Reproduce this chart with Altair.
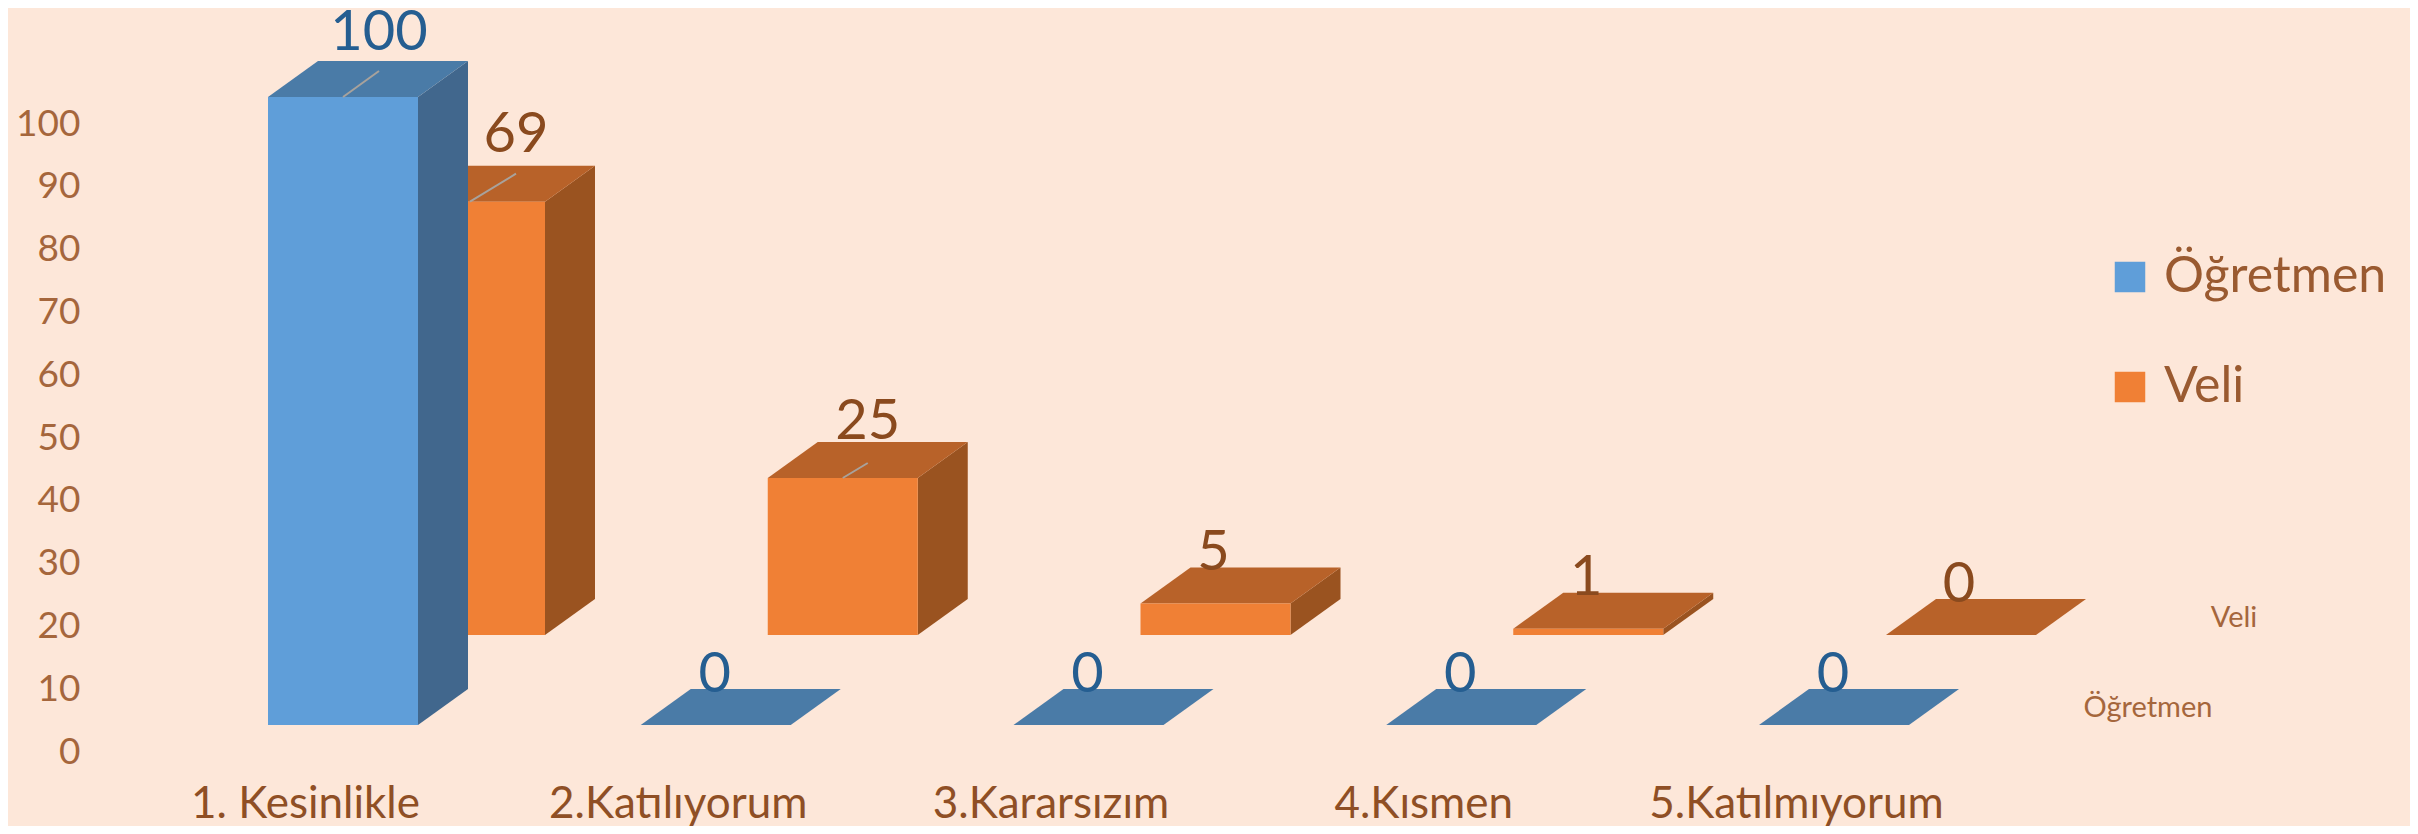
import json
import altair as alt
import pandas as pd

# ---- values ----
categories = ["1. Kesinlikle", "2.Katılıyorum", "3.Kararsızım", "4.Kısmen", "5.Katılmıyorum"]
ogretmen = [100, 0, 0, 0, 0]
veli = [69, 25, 5, 1, 0]
series_names = ["Öğretmen", "Veli"]
y_ticks = [0, 10, 20, 30, 40, 50, 60, 70, 80, 90, 100]

# ---- layout (pixels on the page -> data units) ----
PX_X = 372.75          # pixels per category
PX_Y = 6.28            # pixels per value unit
X0_PAGE, Y0_PAGE = 305, 752
px = lambda p: p / PX_X
py = lambda p: p / PX_Y

BAR_W = px(150)
DEPTH_X = px(50)
DEPTH_Y = py(36)
ROW = {"Öğretmen": dict(xo=px(-37), base=py(27), front="#5F9ED9", side="#41678D", top="#4A7BA7", text="#255E91"),
       "Veli": dict(xo=px(90), base=py(117), front="#F08035", side="#9A5320", top="#B86229", text="#8A4A1E")}
# label shift from the front-face centre / above the back edge of the top, in pixels
LABEL_DX = {"Öğretmen": [36, -1, -1, -1, -1], "Veli": [46, 25, -2, -2, -2]}
LABEL_DY = {"Öğretmen": [10.7, -2.7, -2.7, -2.7, -2.7], "Veli": [14, 3, -2.7, -2.7, -2.7]}
LEADER_DY = {"Öğretmen": [26, 0, 0, 0, 0], "Veli": [28, 15, 0, 0, 0]}
LABEL_SIZE = {"Öğretmen": [56, 56, 56, 56, 56], "Veli": [56, 56, 56, 56, 56]}

front, side, top, labels, leaders = [], [], [], [], []
for name, vals in (("Öğretmen", ogretmen), ("Veli", veli)):
    r = ROW[name]
    for i, v in enumerate(vals):
        fl = i + r["xo"]
        fr = fl + BAR_W
        b, t = r["base"], r["base"] + v
        key = f"{name}{i}"
        front.append(dict(s=name, x=fl, x2=fr, y=b, y2=t))
        side.append(dict(s=name, k=key, x=fr, y=b, y2=t))
        side.append(dict(s=name, k=key, x=fr + DEPTH_X, y=b + DEPTH_Y, y2=t + DEPTH_Y))
        top.append(dict(s=name, k=key, y=t, x=fl, x2=fr))
        top.append(dict(s=name, k=key, y=t + DEPTH_Y, x=fl + DEPTH_X, x2=fr + DEPTH_X))
        cx = (fl + fr) / 2
        lx = cx + px(LABEL_DX[name][i])
        labels.append(dict(s=name, x=lx, y=t + DEPTH_Y + py(LABEL_DY[name][i]), v=str(v), size=LABEL_SIZE[name][i]))
        if LEADER_DY[name][i]:
            leaders.append(dict(s=name, x=cx, x2=lx, y=t, y2=t + py(LEADER_DY[name][i])))

front, side, top = pd.DataFrame(front), pd.DataFrame(side), pd.DataFrame(top)
labels, leaders = pd.DataFrame(labels), pd.DataFrame(leaders)

# ---- scales ----
PLOT_L, PLOT_R, PLOT_T, PLOT_B = 95, 2410, 8, 785
x_scale = alt.Scale(domain=[(PLOT_L - X0_PAGE) / PX_X, (PLOT_R - X0_PAGE) / PX_X], nice=False, zero=False)
y_scale = alt.Scale(domain=[(Y0_PAGE - PLOT_B) / PX_Y, (Y0_PAGE - PLOT_T) / PX_Y], nice=False, zero=False)

BG = "#FDE7D9"
FONT = "Lato"

x_axis = alt.Axis(
    values=list(range(len(categories))),
    labelExpr=f"{json.dumps(categories, ensure_ascii=False)}[datum.value]",
    title=None, domain=False, ticks=False, grid=False, labelFont=FONT,
    labelFontSize=44, labelColor="#8F4F25", labelPadding=32, labelBaseline="alphabetic", labelFlush=False,
    labelOverlap=False, labelLimit=500)
y_axis = alt.Axis(
    values=y_ticks, title=None, domain=False, ticks=False, grid=False, labelFont=FONT,
    labelFontSize=37, labelColor="#A5663C", labelPadding=15, labelBaseline="middle")

X = lambda f="x": alt.X(f"{f}:Q", scale=x_scale, axis=x_axis)
Y = lambda f="y": alt.Y(f"{f}:Q", scale=y_scale, axis=y_axis)
X2 = alt.X2("x2:Q")
Y2 = alt.Y2("y2:Q")

legend = alt.Legend(
    title=None, orient="none", legendX=2105 - PLOT_L, legendY=252 - PLOT_T, symbolType="square", symbolSize=930,
    symbolStrokeWidth=0, labelFont=FONT, labelFontSize=50, labelColor="#9A5A30",
    labelOffset=9, rowPadding=60, labelLimit=400, padding=0,
)
color = alt.Color("s:N", scale=alt.Scale(domain=series_names, range=[ROW[n]["front"] for n in series_names]), legend=legend)


def bar_layers(name):
    r = ROW[name]
    sel = f"datum.s === '{name}'"
    return [
        alt.Chart(side).transform_filter(sel).mark_area(color=r["side"], orient="vertical").encode(
            x=X(), y=Y(), y2=Y2, detail="k:N"),
        alt.Chart(top).transform_filter(sel).mark_area(color=r["top"], orient="horizontal").encode(
            y=Y(), x=X(), x2=X2, detail="k:N"),
        alt.Chart(front).transform_filter(sel).mark_rect().encode(x=X(), x2=X2, y=Y(), y2=Y2, color=color),
    ]


leader_layer = alt.Chart(leaders).mark_rule(color="#A8A29C", strokeWidth=2).encode(x=X(), x2=X2, y=Y(), y2=Y2)

text_layers = [
    alt.Chart(labels).transform_filter(f"datum.s === '{n}'").mark_text(
        font=FONT, color=ROW[n]["text"], align="center", baseline="alphabetic").encode(
        x=X(), y=Y(), text="v:N", size=alt.Size("size:Q", scale=None))
    for n in series_names
]

series_axis = alt.Chart(pd.DataFrame({
    "x": [(2234 - X0_PAGE) / PX_X, (2148 - X0_PAGE) / PX_X],
    "y": [(Y0_PAGE - 627) / PX_Y, (Y0_PAGE - 717) / PX_Y],
    "t": ["Veli", "Öğretmen"],
})).mark_text(font=FONT, fontSize=29, color="#A5663C", align="center", baseline="alphabetic").encode(
    x=X(), y=Y(), text="t:N")

chart = alt.layer(
    *bar_layers("Veli"), *bar_layers("Öğretmen"), leader_layer, *text_layers, series_axis
).resolve_scale(color="shared").properties(
    width=PLOT_R - PLOT_L,
    height=PLOT_B - PLOT_T,
    background=BG,
    autosize=alt.AutoSizeParams(type="none"),
    padding={"left": PLOT_L - 8, "top": PLOT_T - 8, "right": 2410 - PLOT_R, "bottom": 826 - PLOT_B},
).configure_view(stroke=None)

chart.save("out.html", embed_options={"renderer": "svg", "actions": False})
